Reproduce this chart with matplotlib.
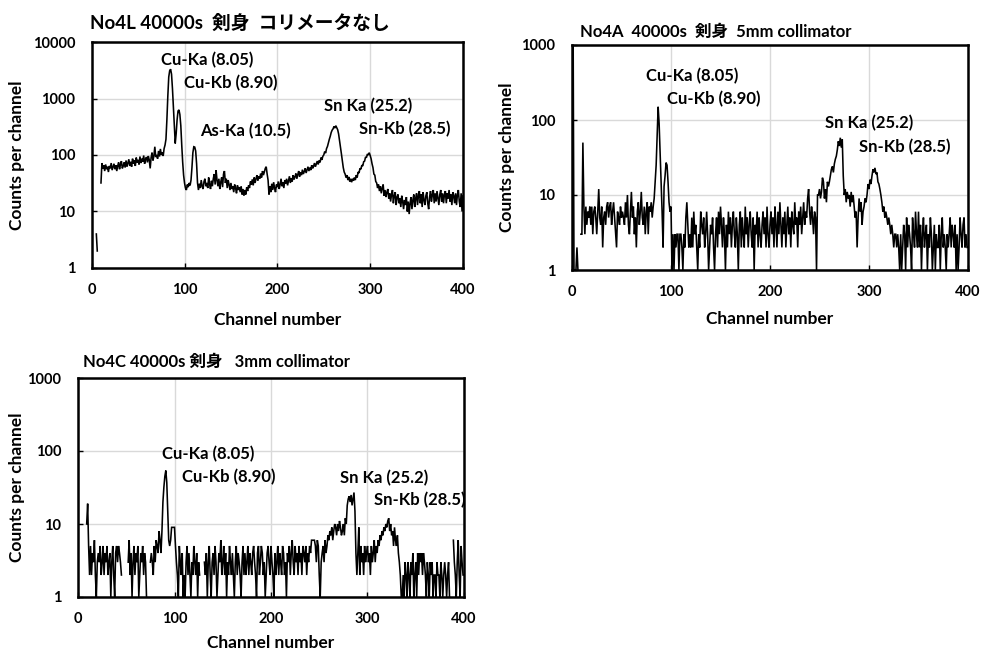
import numpy as np
import matplotlib
matplotlib.use('Agg')
import matplotlib.pyplot as plt

FAM = ['Lato', 'Noto Sans CJK JP', 'DejaVu Sans']
plt.rcParams['font.family'] = FAM
plt.rcParams['font.weight'] = 'bold'

# ---------------- data ----------------
# No4L (no collimator): counts per channel, first channel = 5
start_4L = 5
counts_4L = [
    4, 2, 0, 0, 0,
    32, 72, 58, 66, 52, 68, 56, 62, 50, 64,
    58, 72, 54, 62, 70, 56, 66, 52, 64, 74,
    56, 68, 78, 58, 64, 74, 60, 80, 62, 72,
    84, 64, 76, 62, 86, 70, 80, 64, 90, 74,
    82, 68, 94, 72, 86, 76, 98, 70, 84, 92,
    74, 96, 82, 58, 90, 110, 80, 96, 140, 92,
    100, 86, 118, 94, 128, 100, 112, 96, 130, 150,
    190, 420, 1100, 2400, 3100, 3300, 2700, 1500, 700, 300,
    160, 240, 420, 600, 630, 520, 330, 150, 75, 44,
    32, 26, 24, 30, 27, 32, 29, 36, 60, 110,
    140, 138, 118, 70, 32, 24, 31, 26, 36, 28,
    25, 34, 38, 28, 32, 26, 40, 30, 25, 35,
    28, 38, 46, 30, 54, 36, 28, 38, 25, 33,
    40, 27, 46, 52, 32, 38, 26, 36, 30, 24,
    32, 25, 28, 22, 30, 26, 21, 29, 24, 27,
    22, 28, 20, 25, 19, 24, 20, 27, 23, 29,
    26, 34, 30, 37, 29, 40, 32, 38, 44, 35,
    42, 38, 47, 40, 52, 44, 50, 58, 62, 46,
    36, 20, 28, 22, 31, 24, 33, 26, 22, 30,
    27, 34, 25, 30, 38, 28, 33, 26, 36, 31,
    38, 29, 35, 42, 32, 39, 34, 44, 37, 41,
    47, 38, 45, 52, 41, 49, 44, 55, 46, 51,
    58, 48, 55, 62, 52, 60, 54, 66, 58, 63,
    72, 62, 70, 78, 68, 80, 74, 90, 82, 95,
    100, 115, 108, 130, 142, 165, 190, 215, 250, 275,
    290, 320, 300, 330, 305, 280, 235, 180, 140, 105,
    78, 60, 50, 46, 40, 44, 36, 41, 34, 38,
    33, 38, 35, 40, 36, 44, 40, 50, 48, 58,
    56, 66, 64, 76, 78, 92, 90, 104, 100, 110,
    98, 86, 70, 60, 46, 44, 34, 32, 26, 30,
    23, 28, 21, 26, 30, 19, 24, 18, 22, 25,
    17, 21, 15, 20, 24, 14, 19, 22, 13, 18,
    20, 14, 17, 12, 19, 15, 11, 16, 13, 18,
    10, 15, 9, 14, 18, 11, 16, 20, 12, 17,
    21, 13, 19, 23, 14, 20, 12, 22, 16, 13,
    19, 22, 14, 11, 18, 23, 15, 20, 24, 14,
    21, 15, 23, 17, 13, 20, 24, 15, 21, 14,
    20, 23, 14, 21, 17, 24, 15, 20, 13, 22,
    19, 14, 21, 13, 20, 24, 15, 12, 21, 10,
    19,
]

# No4A (5 mm collimator): first channel = 1
start_4A = 1
counts_4A = [
    5000, 1, 1, 1, 2, 1, 0, 0, 3,
    3, 50, 7, 3, 7, 4, 6, 5, 7, 4,
    7, 3, 6, 7, 5, 3, 6, 12, 5, 4,
    7, 2, 5, 6, 4, 7, 8, 5, 7, 8,
    4, 6, 8, 5, 3, 2, 6, 5, 4, 7,
    5, 6, 5, 4, 8, 5, 10, 4, 3, 6,
    11, 5, 7, 3, 5, 2, 6, 8, 4, 6,
    11, 5, 4, 7, 3, 6, 8, 3, 7, 6,
    8, 5, 7, 9, 15, 25, 60, 150, 90, 35,
    15, 6, 2, 13, 18, 27, 25, 15, 8, 6,
    7, 1, 3, 1, 3, 2, 3, 3, 1, 3,
    3, 2, 1, 3, 2, 5, 8, 4, 2, 3,
    2, 5, 2, 6, 3, 4, 2, 1, 3, 2,
    6, 4, 3, 5, 2, 3, 6, 3, 1, 2,
    4, 3, 5, 2, 1, 3, 5, 2, 6, 3,
    7, 4, 2, 5, 3, 1, 4, 2, 6, 3,
    5, 2, 4, 6, 3, 2, 5, 3, 1, 4,
    6, 2, 5, 3, 2, 7, 3, 5, 2, 4,
    6, 3, 2, 5, 1, 4, 3, 6, 2, 5,
    3, 2, 4, 6, 3, 5, 2, 7, 3, 2,
    4, 6, 3, 5, 2, 7, 4, 2, 6, 3,
    8, 4, 2, 5, 3, 6, 2, 4, 7, 3,
    5, 2, 6, 4, 3, 8, 4, 5, 2, 6,
    4, 7, 3, 5, 8, 4, 6, 5, 9, 12,
    6, 4, 7, 5, 3, 6, 5, 1, 10, 10,
    12, 9, 11, 17, 15, 9, 12, 8, 15, 13,
    15, 18, 22, 24, 20, 26, 30, 33, 40, 52,
    45, 58, 43, 55, 18, 10, 12, 8, 11, 9,
    10, 7, 11, 8, 10, 7, 5, 6, 2, 5,
    9, 6, 8, 4, 6, 7, 9, 8, 10, 14,
    12, 16, 14, 18, 22, 20, 23, 19, 20, 15,
    14, 12, 10, 8, 6, 7, 5, 6, 5, 4,
    5, 4, 3, 4, 3, 2, 3, 3, 2, 3,
    2, 1, 3, 1, 2, 4, 3, 1, 5, 2,
    4, 3, 2, 1, 5, 3, 2, 6, 3, 2,
    6, 2, 4, 1, 3, 5, 2, 3, 4, 1,
    3, 2, 5, 3, 1, 2, 4, 1, 3, 2,
    2, 4, 1, 3, 5, 2, 3, 2, 1, 3,
    2, 3, 5, 2, 4, 3, 2, 4, 1, 3,
    1, 2, 5, 3, 2, 4, 5, 2, 3, 2,
    2,
]

# No4C (3 mm collimator): first channel = 9
start_4C = 9
counts_4C = [
    10,
    19, 5, 2, 5, 2, 4, 3, 6, 2, 1,
    3, 4, 3, 5, 2, 3, 5, 2, 4, 3,
    5, 2, 3, 4, 1, 3, 5, 2, 1, 4,
    5, 3, 5, 4, 3, 2, 0, 0, 0, 0,
    0, 0, 3, 6, 2, 4, 1, 3, 5, 2,
    4, 3, 5, 1, 2, 4, 3, 5, 2, 4,
    3, 1, 0, 0, 0, 3, 4, 3, 2, 5,
    3, 6, 5, 4, 8, 6, 4, 8, 20, 32,
    45, 54, 37, 15, 6, 5, 6, 9, 9, 9,
    9, 5, 3, 2, 1, 5, 3, 2, 4, 1,
    2, 1, 3, 5, 2, 4, 2, 1, 3, 2,
    5, 3, 2, 4, 1, 3, 2, 0, 0, 0,
    0, 3, 2, 4, 1, 3, 5, 2, 1, 3,
    4, 2, 5, 3, 1, 2, 4, 3, 6, 2,
    3, 5, 2, 4, 1, 3, 2, 5, 3, 2,
    4, 2, 1, 3, 5, 2, 4, 3, 2, 1,
    3, 5, 2, 4, 2, 3, 5, 2, 4, 3,
    2, 4, 5, 3, 2, 1, 4, 5, 2, 3,
    5, 4, 2, 3, 1, 2, 4, 5, 3, 2,
    5, 3, 2, 1, 4, 2, 3, 5, 2, 4,
    3, 2, 5, 4, 2, 3, 1, 4, 3, 5,
    2, 4, 6, 3, 2, 5, 3, 4, 2, 5,
    3, 4, 2, 5, 4, 3, 5, 2, 4, 3,
    5, 4, 6, 6, 6, 6, 5, 3, 6, 5,
    2, 1, 3, 4, 5, 3, 6, 4, 5, 7,
    6, 8, 7, 9, 6, 8, 10, 9, 7, 10,
    8, 11, 9, 7, 8, 10, 7, 12, 10, 18,
    22, 24, 20, 25, 18, 22, 27, 15, 4, 2,
    4, 9, 2, 5, 3, 4, 2, 5, 3, 4,
    5, 3, 4, 2, 5, 3, 4, 6, 3, 5,
    4, 6, 5, 7, 6, 8, 7, 9, 8, 10,
    9, 11, 12, 8, 10, 7, 8, 5, 9, 6,
    5, 7, 4, 3, 2, 1, 1, 2, 1, 3,
    2, 1, 3, 2, 1, 3, 2, 4, 1, 2,
    3, 1, 4, 2, 4, 3, 4, 2, 4, 3,
    2, 1, 3, 2, 1, 3, 2, 3, 1, 2,
    2, 1, 3, 2, 2, 1, 3, 2, 1, 2,
    3, 2, 1, 2, 3, 1, 0, 0, 0, 6,
    3, 2, 1, 3, 6, 2, 1, 5, 3, 2,
    2,
]

xticks = [0, 100, 200, 300, 400]
yticks_4L = [1, 10, 100, 1000, 10000]
yticks_4A = [1, 10, 100, 1000]
yticks_4C = [1, 10, 100, 1000]

title_4L = "No4L 40000s  剣身  コリメータなし"
title_4A = "No4A  40000s  剣身  5mm collimator"
title_4C = "No4C 40000s 剣身   3mm collimator"

annot_4L = [("Cu-Ka (8.05)", 75, 4800), ("Cu-Kb (8.90)", 99, 1900),
            ("As-Ka (10.5)", 117, 270), ("Sn Ka (25.2)", 250, 740),
            ("Sn-Kb (28.5)", 288, 283)]
annot_4A = [("Cu-Ka (8.05)", 75, 380), ("Cu-Kb (8.90)", 96, 189),
            ("Sn Ka (25.2)", 256, 90), ("Sn-Kb (28.5)", 290, 44)]
annot_4C = [("Cu-Ka (8.05)", 87, 90), ("Cu-Kb (8.90)", 108, 44),
            ("Sn Ka (25.2)", 272, 43), ("Sn-Kb (28.5)", 307, 21.3)]

W, H = 981, 651
fig = plt.figure(figsize=(W / 100, H / 100), dpi=100)


def rect(l, t, r, b):
    return [l / W, 1 - b / H, (r - l) / W, (b - t) / H]


def panel(box, start, counts, yticks, annots, title, title_xy, title_fs, ylab_x, xlab_y):
    ax = fig.add_axes(rect(*box))
    ch = np.arange(start, start + len(counts))
    y = np.array(counts, dtype=float)
    y[y <= 0] = np.nan
    ax.plot(ch, y, color='black', lw=1.15, solid_joinstyle='miter')
    ax.set_yscale('log')
    ax.set_xlim(0, 400)
    ax.set_ylim(yticks[0], yticks[-1])
    ax.set_xticks(xticks)
    ax.set_xticklabels([str(v) for v in xticks])
    ax.set_yticks(yticks)
    ax.set_yticklabels([str(v) for v in yticks])
    ax.yaxis.set_minor_locator(matplotlib.ticker.NullLocator())
    ax.grid(True, which='major', color='#d9d9d9', lw=1.0)
    ax.set_axisbelow(True)
    for s in ax.spines.values():
        s.set_linewidth(1.8)
        s.set_color('black')
    ax.tick_params(axis='both', which='major', direction='in', length=3.5, width=1.0,
                   labelsize=10.5, pad=12)
    ax.tick_params(axis='x', pad=11)
    for lab in ax.get_xticklabels() + ax.get_yticklabels():
        lab.set_fontweight('bold')
    for txt, xv, yv in annots:
        ax.text(xv, yv, txt, ha='left', va='center', fontsize=12, fontweight='bold')
    fig.text(title_xy[0] / W, 1 - title_xy[1] / H, title, ha='left', va='center',
             fontsize=title_fs, fontweight='bold')
    l, t, r, b = box
    fig.text(ylab_x / W, 1 - ((t + b) / 2) / H, "Counts per channel", rotation=90,
             ha='center', va='center', fontsize=12.5, fontweight='bold')
    fig.text(((l + r) / 2) / W, 1 - xlab_y / H, "Channel number", ha='center',
             va='center', fontsize=12.5, fontweight='bold')
    return ax


panel((91.7, 42, 463, 268), start_4L, counts_4L, yticks_4L, annot_4L, title_4L,
      (90, 22.7), 13.5, 16.7, 320)
panel((572, 45, 968, 270), start_4A, counts_4A, yticks_4A, annot_4A, title_4A,
      (580, 31.7), 12, 506.7, 319)
panel((78, 378, 464, 597), start_4C, counts_4C, yticks_4C, annot_4C, title_4C,
      (83, 362.3), 12, 16.7, 643)

fig.savefig('out.png', dpi=100)
